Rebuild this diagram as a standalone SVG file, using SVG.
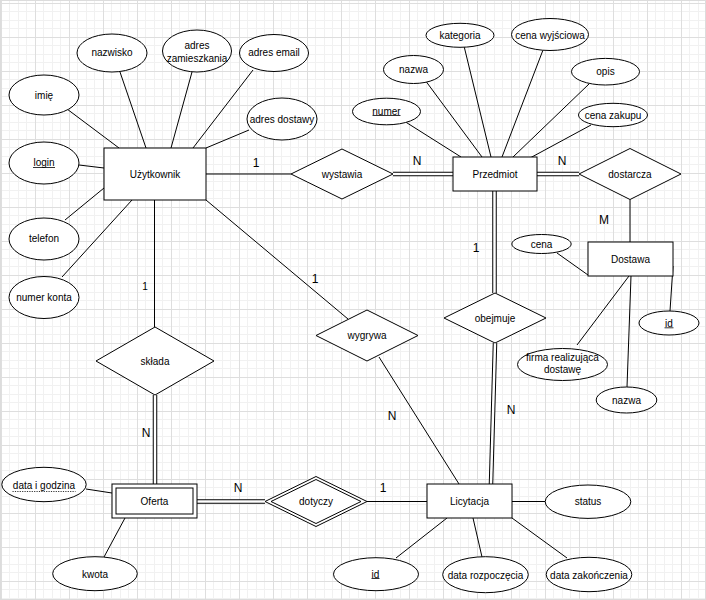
<svg xmlns="http://www.w3.org/2000/svg" width="706" height="600" viewBox="0 0 706 600">
<defs>
<pattern id="grid" x="1" y="3" width="34" height="34" patternUnits="userSpaceOnUse">
<rect width="34" height="34" fill="#ffffff"/>
<rect x="8" y="0" width="1" height="34" fill="#f1f1f1"/>
<rect x="17" y="0" width="1" height="34" fill="#f1f1f1"/>
<rect x="25" y="0" width="1" height="34" fill="#f1f1f1"/>
<rect x="0" y="8" width="34" height="1" fill="#f1f1f1"/>
<rect x="0" y="17" width="34" height="1" fill="#f1f1f1"/>
<rect x="0" y="25" width="34" height="1" fill="#f1f1f1"/>
<rect x="0" y="0" width="1" height="34" fill="#dedede"/>
<rect x="0" y="0" width="34" height="1" fill="#dedede"/>
</pattern>
<style>
.s{fill:#fff;stroke:#000;stroke-width:1}
.ln{fill:none;stroke:#000;stroke-width:1}
.d1{fill:none;stroke:#000;stroke-width:4.5}
.d2{fill:none;stroke:#fff;stroke-width:2.5}
.t{font-family:"Liberation Sans",Arial,Helvetica,sans-serif;font-size:10px;text-anchor:middle;dominant-baseline:central;fill:#000}
.c{font-family:"Liberation Sans",Arial,Helvetica,sans-serif;font-size:12px;text-anchor:middle;dominant-baseline:central;fill:#000}
.cs{font-size:10px}
.u{stroke:#000;stroke-width:0.8}
</style>
</defs>
<rect width="706" height="600" fill="url(#grid)"/>
<rect x="0.5" y="0.5" width="705" height="599" fill="none" stroke="#dcdcdc"/>

<g id="connectors">
<!-- Użytkownik attributes -->
<path class="ln" d="M67,109 L119,148"/>
<path class="ln" d="M120,72 L146,148"/>
<path class="ln" d="M192,72 L171,148"/>
<path class="ln" d="M253,70 L193,148"/>
<path class="ln" d="M249,130 L206,148"/>
<path class="ln" d="M79,165 L104,168"/>
<path class="ln" d="M65,220 L104,188"/>
<path class="ln" d="M62,277 L132,200"/>
<!-- Użytkownik relations -->
<path class="ln" d="M206,174 L291,174"/>
<path class="ln" d="M154.5,200 L154.5,327"/>
<path class="ln" d="M206,200 L348,319"/>
<path class="ln" d="M379,357 L459,484"/>
<!-- Przedmiot attributes -->
<path class="ln" d="M404,121 L461,157"/>
<path class="ln" d="M425,80 L482,157"/>
<path class="ln" d="M464,46 L491,157"/>
<path class="ln" d="M543,50 L502,157"/>
<path class="ln" d="M589,84 L513,157"/>
<path class="ln" d="M591,125 L530,158"/>
<!-- Dostawa -->
<path class="ln" d="M630,199.5 L630,242"/>
<path class="ln" d="M557,253 L588,275"/>
<path class="ln" d="M673,266 L670,311"/>
<path class="ln" d="M629,276 L577,345"/>
<path class="ln" d="M631,276 L627,387"/>
<!-- Licytacja -->
<path class="ln" d="M367,501.5 L427,501.5"/>
<path class="ln" d="M512,501.5 L545,501.5"/>
<path class="ln" d="M396,558 L447,518"/>
<path class="ln" d="M473,518 L482,557"/>
<path class="ln" d="M512,518 L567,558"/>
<!-- Oferta -->
<path class="ln" d="M86,489 L112,493"/>
<path class="ln" d="M104,557 L125,518"/>
<!-- double lines -->
<path class="d1" d="M393,174 L453,174"/><path class="d2" d="M393,174 L453,174"/>
<path class="d1" d="M537,174 L579,174"/><path class="d2" d="M537,174 L579,174"/>
<path class="d1" d="M494.5,191 L494.5,293"/><path class="d2" d="M494.5,191 L494.5,293"/>
<path class="d1" d="M495,343 L491,484"/><path class="d2" d="M495,343 L491,484"/>
<path class="d1" d="M155,395 L155,484"/><path class="d2" d="M155,395 L155,484"/>
<path class="d1" d="M197,501.5 L265,501.5"/><path class="d2" d="M197,501.5 L265,501.5"/>
</g>

<g id="labels">
<text class="c" x="256" y="163">1</text>
<text class="c" x="417" y="161">N</text>
<text class="c" x="562" y="161">N</text>
<text class="c" x="604" y="220">M</text>
<text class="c cs" x="145" y="286">1</text>
<text class="c" x="315" y="279">1</text>
<text class="c" x="476" y="248">1</text>
<text class="c" x="146" y="433">N</text>
<text class="c" x="238" y="488">N</text>
<text class="c" x="383" y="488">1</text>
<text class="c" x="392" y="416">N</text>
<text class="c" x="511" y="410">N</text>
</g>

<g id="uzytkownik"><rect class="s" x="104" y="148" width="102" height="52"/><text class="t" x="155" y="174">Użytkownik</text></g>
<g id="imie"><ellipse class="s" cx="44" cy="95" rx="35" ry="20"/><text class="t" x="44" y="95">imię</text></g>
<g id="nazwisko"><ellipse class="s" cx="112" cy="53" rx="35" ry="19"/><text class="t" x="112" y="52">nazwisko</text></g>
<g id="adres_zamieszkania"><ellipse class="s" cx="197" cy="51" rx="34.5" ry="21"/><text class="t" x="197" y="45.5">adres</text><text class="t" x="197" y="58">zamieszkania</text></g>
<g id="adres_email"><ellipse class="s" cx="274" cy="53" rx="34.5" ry="18.5"/><text class="t" x="274" y="52">adres email</text></g>
<g id="adres_dostawy"><ellipse class="s" cx="282" cy="119" rx="35" ry="21"/><text class="t" x="282" y="119">adres dostawy</text></g>
<g id="login"><ellipse class="s" cx="44" cy="163" rx="35" ry="21"/><text class="t" x="44" y="162.5">login</text><line class="u" x1="33" y1="167.5" x2="55" y2="167.5"/></g>
<g id="telefon"><ellipse class="s" cx="44" cy="239" rx="35" ry="21"/><text class="t" x="44" y="238.5">telefon</text></g>
<g id="numer_konta"><ellipse class="s" cx="44" cy="297.5" rx="35" ry="21"/><text class="t" x="44" y="297.5">numer konta</text></g>

<g id="wystawia"><polygon class="s" points="291,174 342,149 393,174 342,199"/><text class="t" x="342" y="174">wystawia</text></g>

<g id="przedmiot"><rect class="s" x="453" y="157" width="84" height="34"/><text class="t" x="495" y="174">Przedmiot</text></g>
<g id="numer"><ellipse class="s" cx="386.5" cy="111.5" rx="34" ry="13.3"/><text class="t" x="386.5" y="111">numer</text><line class="u" x1="372.5" y1="115.5" x2="400.5" y2="115.5"/></g>
<g id="nazwa"><ellipse class="s" cx="413.5" cy="69.5" rx="30" ry="14"/><text class="t" x="413.5" y="69.5">nazwa</text></g>
<g id="kategoria"><ellipse class="s" cx="460" cy="35.3" rx="34" ry="12"/><text class="t" x="460" y="35">kategoria</text></g>
<g id="cena_wyjsciowa"><ellipse class="s" cx="550" cy="34.5" rx="38.5" ry="16"/><text class="t" x="550" y="35">cena wyjściowa</text></g>
<g id="opis"><ellipse class="s" cx="605.5" cy="71.7" rx="34" ry="13.3"/><text class="t" x="605.5" y="71.5">opis</text></g>
<g id="cena_zakupu"><ellipse class="s" cx="613" cy="115" rx="34.5" ry="11.7"/><text class="t" x="613" y="115">cena zakupu</text></g>

<g id="dostarcza"><polygon class="s" points="579,174 630,148.5 681,174 630,199.5"/><text class="t" x="630" y="174">dostarcza</text></g>

<g id="dostawa"><rect class="s" x="588" y="242" width="85" height="34"/><text class="t" x="630.5" y="259">Dostawa</text></g>
<g id="cena"><ellipse class="s" cx="541.5" cy="244" rx="29.7" ry="9.5"/><text class="t" x="541.5" y="244">cena</text></g>
<g id="id_dostawa"><ellipse class="s" cx="669" cy="323" rx="30" ry="12"/><text class="t" x="669" y="323">id</text><line class="u" x1="664.5" y1="327.8" x2="673.5" y2="327.8"/></g>
<g id="firma"><ellipse class="s" cx="562.5" cy="364.5" rx="45" ry="16"/><text class="t" x="562.5" y="357.5">firma realizująca</text><text class="t" x="562.5" y="369.5">dostawę</text></g>
<g id="nazwa_dostawa"><ellipse class="s" cx="626.5" cy="400" rx="30.3" ry="13"/><text class="t" x="626.5" y="400">nazwa</text></g>

<g id="obejmuje"><polygon class="s" points="444,318 495,293 546,318 495,343"/><text class="t" x="495" y="318">obejmuje</text></g>
<g id="wygrywa"><polygon class="s" points="316,335.5 367,310 418,335.5 367,361"/><text class="t" x="367" y="335.5">wygrywa</text></g>
<g id="sklada"><polygon class="s" points="96,361 155,327 214,361 155,395"/><text class="t" x="155" y="361">składa</text></g>

<g id="oferta"><rect class="s" x="112" y="484" width="85" height="34"/><rect class="s" x="116" y="488" width="77" height="26"/><text class="t" x="154.5" y="501.5">Oferta</text></g>
<g id="data_i_godzina"><ellipse class="s" cx="44" cy="484.5" rx="42.2" ry="17.2"/><text class="t" x="44" y="485">data i godzina</text><line class="u" x1="12.5" y1="491.5" x2="75.5" y2="491.5" stroke-dasharray="1.2,1.2"/></g>
<g id="kwota"><ellipse class="s" cx="95" cy="573.7" rx="42.3" ry="17"/><text class="t" x="95" y="574">kwota</text></g>

<g id="dotyczy"><polygon class="s" points="265,501.5 316,476.5 367,501.5 316,526.5"/><polygon class="s" points="271,501.5 316,479.5 361,501.5 316,523.5"/><text class="t" x="316" y="501.5">dotyczy</text></g>

<g id="licytacja"><rect class="s" x="427" y="484" width="85" height="34"/><text class="t" x="469.5" y="501.5">Licytacja</text></g>
<g id="status"><ellipse class="s" cx="588" cy="501.7" rx="42.8" ry="16.7"/><text class="t" x="588" y="501.5">status</text></g>
<g id="id_licytacja"><ellipse class="s" cx="376" cy="574.2" rx="42.5" ry="16.5"/><text class="t" x="375.5" y="574">id</text><line class="u" x1="371.5" y1="578.5" x2="379.5" y2="578.5"/></g>
<g id="data_rozpoczecia"><ellipse class="s" cx="485.5" cy="574.7" rx="42.8" ry="18"/><text class="t" x="485.5" y="575">data rozpoczęcia</text></g>
<g id="data_zakonczenia"><ellipse class="s" cx="589" cy="574.5" rx="42.8" ry="17.2"/><text class="t" x="589" y="575">data zakończenia</text></g>
</svg>
